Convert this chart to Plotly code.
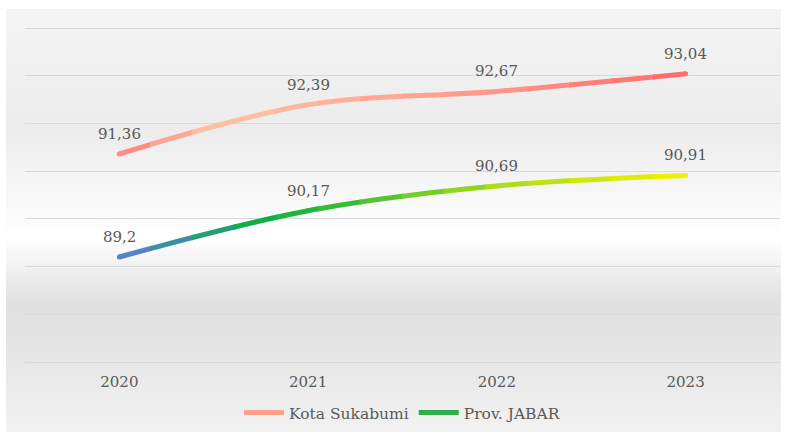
import plotly.graph_objects as go

# ---------------- data ----------------
years = ["2020", "2021", "2022", "2023"]
kota_sukabumi = [91.36, 92.39, 92.67, 93.04]
prov_jabar = [89.2, 90.17, 90.69, 90.91]
series_names = ["Kota Sukabumi", "Prov. JABAR"]

# ---------------- layout geometry / style ----------------
W, H = 789, 435
ML, MR, MT, MB = 25, 9, 26, 71
PW, PH = W - ML - MR, H - MT - MB
YMIN, YMAX = 87, 94
YPAD = 2 * (YMAX - YMIN) / (PH - 4)   # 2 px of padding each side
TXT = "#595959"
FONT = "DejaVu Serif"


def hex2rgb(h):
    h = h.lstrip("#")
    return tuple(int(h[i:i + 2], 16) for i in (0, 2, 4))


def interp(stops, p):
    if p <= stops[0][0]:
        return stops[0][1]
    for (p0, c0), (p1, c1) in zip(stops, stops[1:]):
        if p0 <= p <= p1:
            t = (p - p0) / (p1 - p0) if p1 > p0 else 0
            a, b = hex2rgb(c0), hex2rgb(c1)
            return "rgb(%d,%d,%d)" % tuple(round(a[i] + (b[i] - a[i]) * t) for i in range(3))
    return stops[-1][1]


# colour stops along the horizontal pixel position
kota_stops = [(119, "#ff8482"), (225, "#fcc6a8"), (320, "#ffb29c"),
              (497, "#ff968a"), (686, "#ff6a6a")]
jabar_stops = [(119, "#5b7fd4"), (200, "#2a9a80"), (260, "#0cb046"),
               (330, "#30ba38"), (497, "#a8dc18"), (686, "#f0f400")]

fig = go.Figure()

# background gradient of the chart area
bg_stops = [(9, "#f4f4f4"), (130, "#ececec"), (238, "#ffffff"),
            (300, "#e1e1e1"), (330, "#e2e2e2"), (432, "#f2f2f2")]
shapes = []
x0p = (6 - ML) / PW
x1p = (781 - ML) / PW
y = 9
step = 3
while y < 432:
    y2 = min(y + step, 432)
    shapes.append(dict(type="rect", xref="paper", yref="paper",
                       x0=x0p, x1=x1p,
                       y0=(H - MB - y2) / PH, y1=(H - MB - y) / PH,
                       fillcolor=interp(bg_stops, (y + y2) / 2),
                       line=dict(width=0), layer="below"))
    y = y2

# strips: each strip is its own x-axis showing a slice of the same range,
# so each copy of the line gets clipped and coloured separately (gradient)
N = 18
OV = 1.0 / PW
layout_axes = {}
for i in range(N):
    k = i + 2
    d0, d1 = max(0.0, i / N - OV), min(1.0, (i + 1) / N + OV)
    r0, r1 = -0.5 + 4 * d0, -0.5 + 4 * d1
    layout_axes["xaxis%d" % k] = dict(domain=[d0, d1], range=[r0, r1], type="category",
                                     categoryorder="array", categoryarray=years,
                                     visible=False, anchor="y", fixedrange=True)
    pix = ML + (i + 0.5) / N * PW
    for vals, stops in ((kota_sukabumi, kota_stops), (prov_jabar, jabar_stops)):
        c = interp(stops, pix)
        fig.add_trace(go.Scatter(
            x=years, y=vals, mode="lines+markers",
            line=dict(color=c, width=5, shape="spline", smoothing=1, simplify=False),
            marker=dict(size=5, color=c),
            xaxis="x%d" % k, yaxis="y", showlegend=False, hoverinfo="skip",
            cliponaxis=True))

# legend entries
legend_colors = ["#ffa08c", "#2fae4c"]
for name, col in zip(series_names, legend_colors):
    fig.add_trace(go.Scatter(x=[None], y=[None], mode="lines", name=name,
                             line=dict(color=col, width=5)))

# value labels
annotations = []
for vals in (kota_sukabumi, prov_jabar):
    for idx, v in enumerate(vals):
        annotations.append(dict(x=idx, y=v, xref="x", yref="y",
                                text=("%g" % v).replace(".", ","),
                                showarrow=False, yshift=20,
                                font=dict(family=FONT, size=15, color=TXT)))

fig.update_layout(
    width=W, height=H,
    margin=dict(l=ML, r=MR, t=MT, b=MB, autoexpand=False),
    paper_bgcolor="white", plot_bgcolor="rgba(0,0,0,0)",
    shapes=shapes, annotations=annotations,
    xaxis=dict(domain=[0, 1], type="category", categoryorder="array",
               categoryarray=years, range=[-0.5, 3.5], showgrid=False,
               showline=False, zeroline=False, ticks="", ticklabelstandoff=7,
               tickfont=dict(family=FONT, size=15, color=TXT), fixedrange=True),
    yaxis=dict(range=[YMIN - YPAD, YMAX + YPAD], dtick=1, tick0=YMIN,
               showticklabels=False, showgrid=True, gridcolor="#d9d9d9",
               gridwidth=1, zeroline=False, showline=False, ticks="",
               fixedrange=True),
    legend=dict(orientation="h", x=0.5, xanchor="center",
                yref="container", y=1 - 413 / H, yanchor="middle",
                font=dict(family=FONT, size=15.5, color=TXT),
                bgcolor="rgba(0,0,0,0)", itemwidth=40),
    showlegend=True,
    **layout_axes,
)

fig.write_html("out.html", config={"displayModeBar": False},
               post_script="document.body.style.margin='0';")
